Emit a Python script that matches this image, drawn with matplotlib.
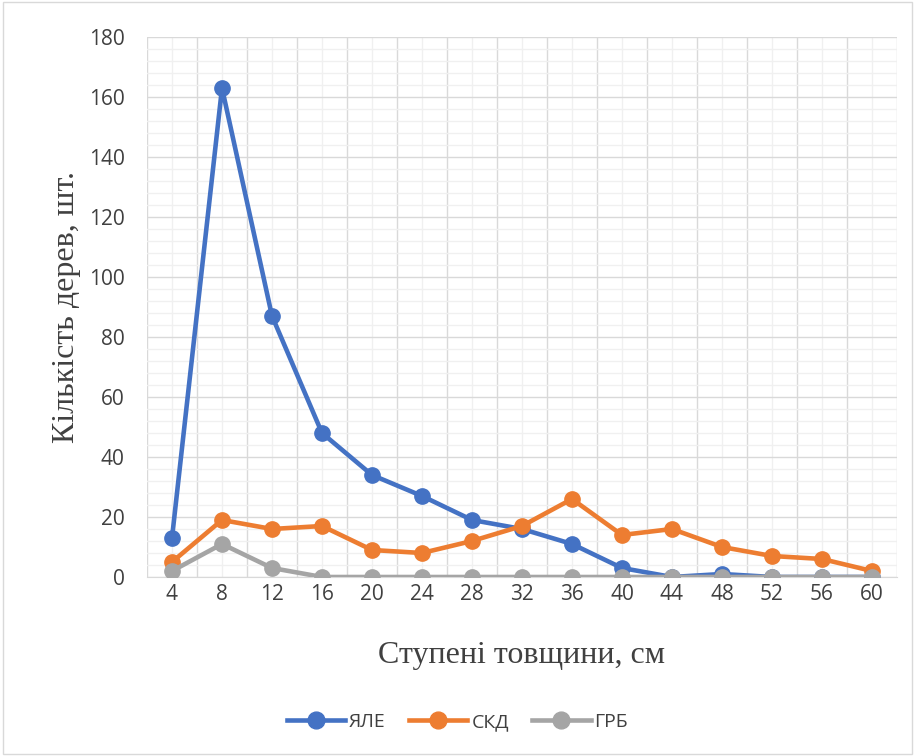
import matplotlib.pyplot as plt
from matplotlib.ticker import MultipleLocator
from matplotlib.patches import Rectangle

# Ступені товщини та кількість дерев
stupeni = [4, 8, 12, 16, 20, 24, 28, 32, 36, 40, 44, 48, 52, 56, 60]
yale = [13, 163, 87, 48, 34, 27, 19, 16, 11, 3, 0, 1, 0, 0, 0]
skd = [5, 19, 16, 17, 9, 8, 12, 17, 26, 14, 16, 10, 7, 6, 2]
grb = [2, 11, 3, 0, 0, 0, 0, 0, 0, 0, 0, 0, 0, 0, 0]

fig = plt.figure(figsize=(9.15, 7.56), dpi=100)
ax = fig.add_axes([147 / 915, 1 - 577 / 756, 750 / 915, 540 / 756])

x = list(range(len(stupeni)))
ax.plot(x, yale, color='#4472C4', lw=3.3, marker='o', ms=11, label='ЯЛЕ', zorder=3)
ax.plot(x, skd, color='#ED7D31', lw=3.3, marker='o', ms=11, label='СКД', zorder=4)
ax.plot(x, grb, color='#A5A5A5', lw=3.3, marker='o', ms=11, label='ГРБ', zorder=5)

ax.set_xlim(-0.5, len(stupeni) - 0.5)
ax.set_ylim(0, 180)
ax.set_xticks(x)
ax.set_xticklabels(stupeni)
ax.yaxis.set_major_locator(MultipleLocator(20))
ax.yaxis.set_minor_locator(MultipleLocator(4))
ax.set_xticks([i - 0.5 for i in range(len(stupeni) + 1)], minor=True)

# сітка: основні лінії по межах категорій, допоміжні по категоріях
ax.grid(which='major', axis='y', color='#D9D9D9', lw=1)
ax.grid(which='minor', axis='y', color='#F0F0F0', lw=1)
ax.grid(which='minor', axis='x', color='#D9D9D9', lw=1)
ax.grid(which='major', axis='x', color='#F0F0F0', lw=1)
ax.set_axisbelow(True)

for s in ['top', 'right', 'left']:
    ax.spines[s].set_visible(False)
ax.spines['bottom'].set_color('#D9D9D9')
ax.tick_params(which='both', length=0)
ax.tick_params(axis='both', labelsize=15, labelcolor='#404040')
ax.tick_params(axis='y', pad=16)
ax.tick_params(axis='x', pad=5)
for lbl in ax.get_xticklabels() + ax.get_yticklabels():
    lbl.set_family('Open Sans')

ax.set_xlabel('Ступені товщини, см', fontsize=23, family='Liberation Serif', color='#404040', labelpad=26)
ax.set_ylabel('Кількість дерев, шт.', fontsize=23, family='Liberation Serif', color='#404040', labelpad=6)

leg = fig.legend(loc='center', bbox_to_anchor=(0.5, 1 - 722 / 756), ncol=3, frameon=False,
                 prop={'family': 'Open Sans', 'size': 14}, handlelength=3, columnspacing=1.2,
                 handletextpad=0.2, markerscale=1.1)
for t in leg.get_texts():
    t.set_color('#404040')

fig.patches.append(Rectangle((0.003, 0.003), 0.994, 0.994, transform=fig.transFigure,
                             fill=False, edgecolor='#D9D9D9', lw=1))

fig.savefig('out.png', dpi=100)
